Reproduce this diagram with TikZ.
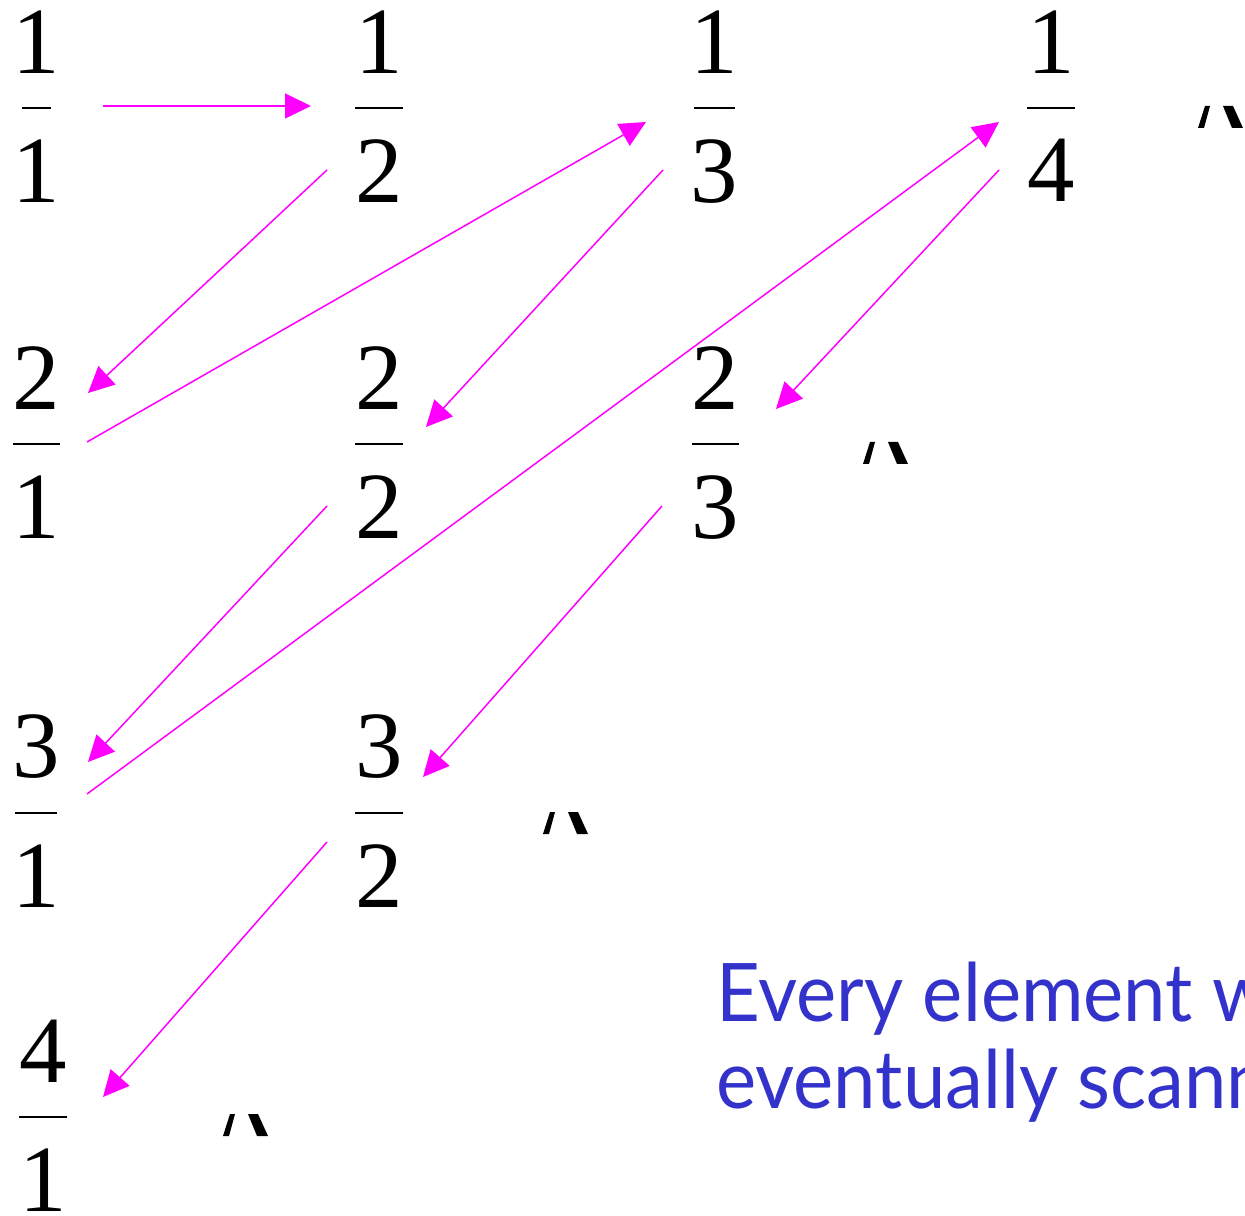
\documentclass[tikz,border=0pt]{standalone}
\usepackage{fontspec}
\setmainfont{Liberation Serif}
\newfontfamily\notefont[FakeStretch=0.94]{Lato}
\usetikzlibrary{arrows.meta,positioning}
\definecolor{scanpink}{RGB}{255,0,255}
\definecolor{noteblue}{RGB}{51,51,204}

\begin{document}
\begin{tikzpicture}[x=0.02cm,y=-0.02cm,
    numeral/.style={inner sep=0pt,font=\rmfamily\fontsize{54}{54}\selectfont},
    fracbar/.style={fill=black,inner sep=0pt,minimum height=0.03cm},
    scan/.style={scanpink,line width=0.03cm,-{Triangle[length=0.52cm,width=0.5cm]}},
    note/.style={noteblue,anchor=base west,inner sep=0pt,font=\notefont\fontsize{46}{46}\selectfont}]
            \useasboundingbox (0,0) rectangle (1245,1216);

            % fractions: name/x/y/top/bottom/bar width
            \foreach \nm/\x/\y/\up/\dn/\w in {11/36.5/108/1/1/29, 12/379/108/1/2/48,
                13/714.5/108/1/3/41, 14/1051/108/1/4/48,
                21/36.5/444/2/1/47, 22/379/444/2/2/48, 23/715/444/2/3/47,
                31/36/813/3/1/42, 32/379/813/3/2/48,
                41/43/1117/4/1/48}{
                \node[fracbar,minimum width=\w*0.02cm] (f\nm) at (\x,\y) {};
                \node[numeral,above=0.66cm of f\nm] (u\nm) {\up};
                \node[numeral,below=0.6cm of f\nm] (d\nm) {\dn};
            }

            \draw[scan] ([shift={(66.5,-2)}]f11.center)--([shift={(-68,-2)}]f12.center);
            \draw[scan] ([shift={(-52,62)}]f12.center)--([shift={(51.5,-51)}]f21.center);
            \draw[scan] ([shift={(50.5,-2)}]f21.center)--([shift={(-68.5,14)}]f13.center);
            \draw[scan] ([shift={(-51.5,62)}]f13.center)--([shift={(47,-17)}]f22.center);
            \draw[scan] ([shift={(-52,62)}]f22.center)--([shift={(52,-51)}]f31.center);
            \draw[scan] ([shift={(51,-19)}]f31.center)--([shift={(-52,14)}]f14.center);
            \draw[scan] ([shift={(-52,62)}]f14.center)--([shift={(61,-35)}]f23.center);
            \draw[scan] ([shift={(-53,62)}]f23.center)--([shift={(44,-36)}]f32.center);
            \draw[scan] ([shift={(-52,29)}]f32.center)--([shift={(60,-20)}]f41.center);

            % row ends
            \foreach \x/\y in {1198/106, 863/442, 543/812, 223/1114}{
                \fill (\x,\y+22)--++(6,0)--++(6,-22)--++(-5,0)--cycle;
                \fill (\x+25,\y)--++(10,0)--++(10,22)--++(-11,0)--cycle;
            }

            \node[note] (line1) at (716,1021) {Every element will be};
            \node[note] (line2) at (716,1108) {eventually scanned};
        \end{tikzpicture}
\end{document}
